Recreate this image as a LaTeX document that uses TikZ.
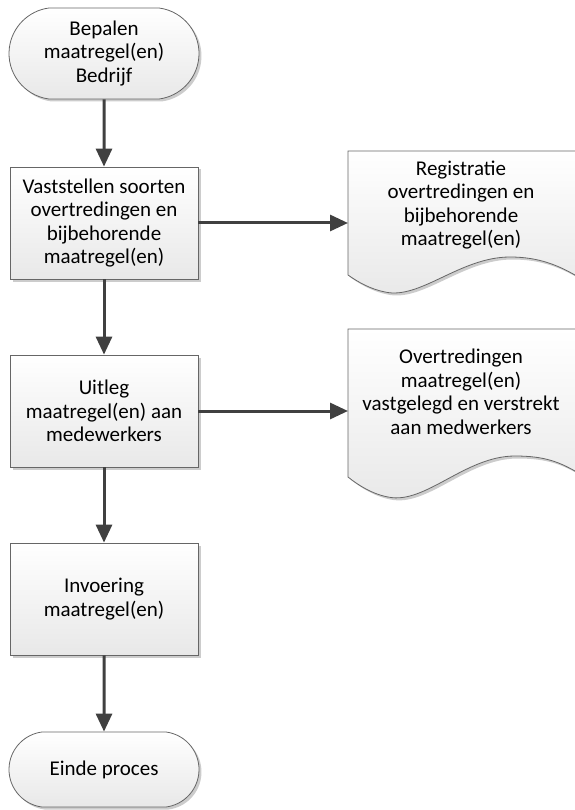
\documentclass[tikz,border=0pt]{standalone}
\usepackage{fontspec}
\setmainfont{Carlito}
\usetikzlibrary{arrows.meta,shapes.misc,shadows}

\begin{document}
\begin{tikzpicture}[x=1pt, y=-1pt,
    shapefill/.style={top color=white, bottom color=black!9, draw=black!60, line width=0.8pt,
        drop shadow={shadow xshift=2.5pt, shadow yshift=-2.5pt, opacity=0.2, fill=black}},
    txt/.style={align=center, font=\fontsize{21}{23.5}\selectfont},
    terminal/.style={shapefill, txt, rounded rectangle, rounded rectangle arc length=165,
        minimum width=190pt, inner sep=0pt},
    process/.style={shapefill, txt, rectangle, minimum width=188pt, minimum height=112pt, inner sep=0pt},
    flow/.style={-{Triangle[width=16pt,length=18pt]}, line width=3pt, black!75}]
    \useasboundingbox (0,0) rectangle (574,810);

    % Documenten
    \draw[shapefill] (348,151) -- (580,151) -- (580,278)
        .. controls (560,266) and (540,257) .. (510,257)
        .. controls (460,257) and (420,300) .. (385,292)
        .. controls (370,289) and (358,282) .. (348,275) -- cycle;
    \draw[shapefill] (348,329) -- (580,329) -- (580,474)
        .. controls (560,462) and (545,456) .. (515,456)
        .. controls (465,456) and (425,505) .. (388,497)
        .. controls (372,494) and (358,485) .. (348,477) -- cycle;
    \node[txt] (doc1) at (461,205) {Registratie\\overtredingen en\\bijbehorende\\maatregel(en)};
    \node[txt] (doc2) at (461,392) {Overtredingen\\maatregel(en)\\vastgelegd en verstrekt\\aan medwerkers};
    \coordinate (doc1w) at (348,205);
    \coordinate (doc2w) at (348,392);

    % Processtappen
    \node[terminal, minimum height=91pt] (start) at (104,53.5) {Bepalen\\maatregel(en)\\Bedrijf};
    \node[process] (stap1) at (104,223) {Vaststellen soorten\\overtredingen en\\bijbehorende\\maatregel(en)};
    \node[process] (stap2) at (104,411) {Uitleg\\maatregel(en) aan\\medewerkers};
    \node[process] (stap3) at (104,599) {Invoering\\maatregel(en)};
    \node[terminal, minimum height=75pt] (einde) at (104,769.5) {Einde proces};

    % Pijlen
    \draw[flow] (start) -- (stap1);
    \draw[flow] (stap1) -- (stap2);
    \draw[flow] (stap2) -- (stap3);
    \draw[flow] (stap3) -- (einde);
    \draw[flow] (stap1.east) -- (stap1.east -| doc1w);
    \draw[flow] (stap2.east) -- (stap2.east -| doc2w);
\end{tikzpicture}
\end{document}
